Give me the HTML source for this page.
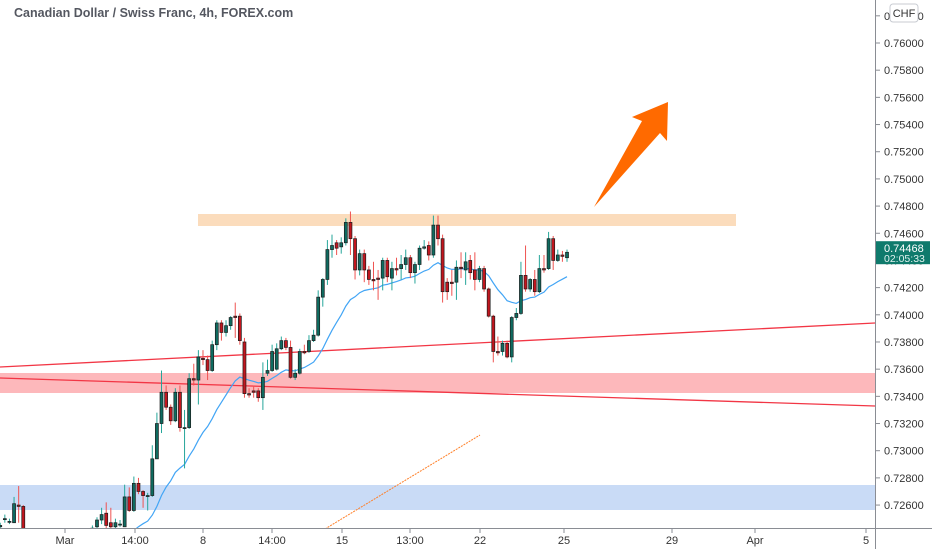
<!DOCTYPE html>
<html><head><meta charset="utf-8">
<style>
html,body{margin:0;padding:0;background:#fff;}
body{width:932px;height:550px;overflow:hidden;position:relative;font-family:"Liberation Sans",sans-serif;}
#title{position:absolute;left:14px;top:6px;font-size:12.5px;color:#2a2e39;font-weight:bold;opacity:.8;}
svg{position:absolute;left:0;top:0;overflow:hidden;}
</style></head>
<body>
<div id="title">Canadian Dollar / Swiss Franc, 4h, FOREX.com</div>
<svg id="chart" width="932" height="550"></svg>
<script>
const opens=[0.7244,0.7250,0.7248,0.7247,0.7260,0.7259,
0.7232,0.7222,0.7212,0.7205,0.7200,0.7196,0.7204,0.7199,0.7206,0.7212,0.7205,0.7210,0.7216,0.7222,0.7232,
0.7244,0.7249,0.7254,0.7247,0.7244,0.7246,0.7244,0.7266,0.7256,0.7276,0.7270,0.7267,0.7267,0.7294,0.7320,0.7343,0.7332,0.7322,0.7343,0.7317,
0.7317,0.7353,0.7352,0.7368,0.7367,0.7359,0.7378,0.7394,0.7387,0.7392,0.7399,0.7399,0.7380,0.7342,0.7344,0.7344,0.7339,0.7357,0.7359,0.7360,
0.7375,0.7381,0.7376,0.7354,0.7357,0.7373,0.7373,0.7381,0.7385,0.7413,0.7426,0.7448,0.7453,0.7450,0.7453,0.7468,0.7456,0.7433,0.7445,0.7433,
0.7426,0.7427,0.7427,0.7440,0.7427,0.7434,0.7434,0.7437,0.7442,0.7431,0.7437,0.7449,0.7451,0.7444,0.7466,0.7456,0.7424,0.7424,0.7424,0.7435,
0.7433,0.7440,0.7433,0.7426,0.7434,0.7419,0.7399,0.7373,0.7373,0.7379,0.7369,0.7398,0.7401,0.7429,0.7419,0.7426,0.7417,0.7434,0.7434,0.7456,
0.7440,0.7444,0.7442];
const closes=[0.7245,0.7250,0.7248,0.7261,0.7259,0.7242,
0.7222,0.7212,0.7205,0.7200,0.7196,0.7204,0.7199,0.7206,0.7212,0.7205,0.7210,0.7216,0.7222,0.7232,0.7243,
0.7249,0.7253,0.7245,0.7244,0.7247,0.7246,0.7266,0.7256,0.7276,0.7270,0.7267,0.7267,0.7294,0.7320,0.7343,0.7332,0.7322,0.7343,0.7317,0.7317,
0.7353,0.7352,0.7369,0.7367,0.7359,0.7378,0.7394,0.7387,0.7392,0.7398,0.7398,0.7381,0.7342,0.7341,0.7343,0.7339,0.7354,0.7359,0.7373,0.7375,
0.7381,0.7376,0.7354,0.7357,0.7373,0.7372,0.7381,0.7385,0.7413,0.7426,0.7448,0.7451,0.7449,0.7453,0.7468,0.7456,0.7433,0.7445,0.7433,0.7426,
0.7425,0.7426,0.7440,0.7428,0.7434,0.7433,0.7437,0.7442,0.7431,0.7437,0.7449,0.7450,0.7444,0.7466,0.7456,0.7417,0.7417,0.7423,0.7435,0.7434,
0.7439,0.7431,0.7426,0.7434,0.7419,0.7399,0.7373,0.7372,0.7379,0.7369,0.7398,0.7401,0.7429,0.7419,0.7426,0.7417,0.7434,0.7433,0.7456,0.7440,
0.7444,0.7443,0.7446];
const highs=[0.7247,0.7253,0.7250,0.7266,0.7274,0.7260,
0.7234,0.7224,0.7215,0.7208,0.7203,0.7206,0.7206,0.7208,0.7214,0.7214,0.7212,0.7218,0.7224,0.7234,0.7245,
0.7251,0.7258,0.7262,0.7258,0.7250,0.7249,0.7275,0.7273,0.7281,0.7280,0.7271,0.7269,0.7304,0.7328,0.7359,0.7348,0.7334,0.7346,0.7348,0.7330,
0.7357,0.7364,0.7374,0.7374,0.7370,0.7381,0.7396,0.7396,0.7396,0.7399,0.7409,0.7401,0.7383,0.7346,0.7348,0.7346,0.7365,0.7367,0.7378,0.7379,
0.7384,0.7383,0.7381,0.7360,0.7375,0.7378,0.7385,0.7389,0.7418,0.7427,0.7455,0.7459,0.7455,0.7457,0.7471,0.7476,0.7458,0.7448,0.7448,0.7436,
0.7439,0.7433,0.7442,0.7442,0.7439,0.7442,0.7444,0.7448,0.7444,0.7439,0.7451,0.7455,0.7454,0.7473,0.7473,0.7459,0.7427,0.7433,0.7440,0.7446,
0.7446,0.7444,0.7446,0.7436,0.7436,0.7420,0.7400,0.7384,0.7381,0.7381,0.7399,0.7405,0.7439,0.7451,0.7427,0.7433,0.7444,0.7444,0.7461,0.7458,
0.7448,0.7447,0.7448];
const lows=[0.7242,0.7247,0.7246,0.7247,0.7247,0.7238,
0.7220,0.7210,0.7202,0.7197,0.7193,0.7194,0.7197,0.7197,0.7204,0.7203,0.7203,0.7208,0.7214,0.7220,0.7230,
0.7242,0.7246,0.7243,0.7243,0.7243,0.7244,0.7244,0.7255,0.7255,0.7268,0.7258,0.7256,0.7266,0.7294,0.7313,0.7330,0.7319,0.7321,0.7314,0.7287,
0.7316,0.7348,0.7334,0.7363,0.7352,0.7358,0.7374,0.7381,0.7384,0.7389,0.7383,0.7378,0.7339,0.7339,0.7339,0.7336,0.7330,0.7355,0.7358,0.7359,
0.7374,0.7374,0.7353,0.7352,0.7356,0.7371,0.7372,0.7380,0.7384,0.7406,0.7422,0.7442,0.7444,0.7445,0.7451,0.7444,0.7426,0.7429,0.7424,0.7422,
0.7418,0.7411,0.7418,0.7424,0.7418,0.7429,0.7426,0.7433,0.7427,0.7423,0.7433,0.7448,0.7440,0.7442,0.7451,0.7409,0.7411,0.7414,0.7411,0.7427,
0.7422,0.7426,0.7418,0.7424,0.7417,0.7398,0.7365,0.7370,0.7370,0.7368,0.7365,0.7396,0.7400,0.7417,0.7417,0.7414,0.7416,0.7431,0.7433,0.7433,
0.7439,0.7439,0.7439];
const priceTicks=[0.762,0.760,0.758,0.756,0.754,0.752,0.750,0.748,0.746,0.744,0.742,0.740,0.738,0.736,0.734,0.732,0.730,0.728,0.726];
const timeLabels=["Mar","14:00","8","14:00","15","13:00","22","25","29","Apr","5"];
const timeLabelX=[65,135,203,272,342,410,480,564,672,755,866];
const lastPrice=0.74468;
const maSeed=0.7225;

const NS="http://www.w3.org/2000/svg";
const svg=document.getElementById('chart');
const PLOT_R=875, PLOT_B=528;
function yOf(p){return Math.min(531, 43+(0.760-p)*13590);}
function xOf(i){return 97+(i-21)*4.608;}
function mk(tag,attrs,parent){const e=document.createElementNS(NS,tag);for(const k in attrs)e.setAttribute(k,attrs[k]);(parent||svg).appendChild(e);return e;}

const defs=mk('defs',{});
const cp=mk('clipPath',{id:'plot'},defs);
mk('rect',{x:0,y:0,width:PLOT_R,height:PLOT_B},cp);
const g=mk('g',{'clip-path':'url(#plot)'});



let z=mk('rect',{x:0,y:485,width:PLOT_R,height:25,fill:'#c9dbf6'},g);


z=mk('rect',{x:0,y:373,width:PLOT_R,height:20,fill:'#fdb8bb'},g);


z=mk('rect',{x:198,y:214,width:538,height:12,fill:'#fbdcbc'},g);



let l=mk('line',{x1:0,y1:367,x2:PLOT_R,y2:323,stroke:'#f23645','stroke-width':1.3},g);


l=mk('line',{x1:0,y1:378,x2:PLOT_R,y2:406,stroke:'#f23645','stroke-width':1.3},g);


l=mk('line',{x1:325,y1:529,x2:480,y2:435,stroke:'#ff7f27','stroke-width':1,'stroke-dasharray':'2,1'},g);



const n=closes.length; const ema=[]; const k=2/21;
for(let i=0;i<n;i++){ema.push(closes[i]*k+(i===0?maSeed:ema[i-1])*(1-k));}
let d='';
for(let i=0;i<n;i++){d+=(i?'L':'M')+xOf(i).toFixed(1)+','+yOf(ema[i]).toFixed(1);}
const ma=mk('path',{d:d,fill:'none',stroke:'#42a5f5','stroke-width':1.2},g);



for(let i=0;i<n;i++){
  const up=closes[i]>=opens[i];
  const x=xOf(i);
  const cg=mk('g',{},g);
  
  
  mk('line',{x1:x,x2:x,y1:yOf(highs[i]),y2:yOf(lows[i]),stroke:up?'#26a69a':'#ef5350','stroke-width':1},cg);
  const top=yOf(Math.max(opens[i],closes[i])), bot=yOf(Math.min(opens[i],closes[i]));
  mk('rect',{x:x-1.5,y:top,width:3,height:Math.max(1,bot-top),fill:up?'#0f6b60':'#c2161e',stroke:'#1c1c1c','stroke-width':0.7},cg);
}

const ar=mk('polygon',{points:'594,207 642,121 632,117 668,102 667,141 660,133',fill:'#ff6a00'});



let ax=mk('line',{x1:PLOT_R+0.5,y1:0,x2:PLOT_R+0.5,y2:549,stroke:'#8a8d94','stroke-width':1});


ax=mk('line',{x1:0,y1:PLOT_B+0.5,x2:932,y2:PLOT_B+0.5,stroke:'#8a8d94','stroke-width':1});



for(const p of priceTicks){
  const y=yOf(p);
  mk('line',{x1:PLOT_R,x2:PLOT_R+5,y1:y,y2:y,stroke:'#8a8d94'});
  const t=mk('text',{x:884,y:y+4,'font-size':11,fill:'#333','font-family':'Liberation Sans, sans-serif'});
  t.textContent=p.toFixed(5);
  
  
}
for(let i=0;i<timeLabels.length;i++){
  const x=timeLabelX[i];
  mk('line',{x1:x,x2:x,y1:PLOT_B,y2:PLOT_B+5,stroke:'#8a8d94'});
  const t=mk('text',{x:x,y:544,'font-size':11,fill:'#333','text-anchor':'middle','font-family':'Liberation Sans, sans-serif'});
  t.textContent=timeLabels[i];
  
  
}

const chf=mk('g',{});


mk('rect',{x:890,y:4,width:28,height:18,rx:3,fill:'#fff',stroke:'#c8cbd2'},chf);
const ct=mk('text',{x:904,y:17,'font-size':11,fill:'#333','text-anchor':'middle','font-family':'Liberation Sans, sans-serif'},chf);
ct.textContent='CHF';

const lp=mk('g',{});


const ly=yOf(lastPrice);
mk('rect',{x:876,y:ly-10,width:54,height:23,fill:'#0f7a6c'},lp);
const t1=mk('text',{x:884,y:ly+1,'font-size':11,fill:'#fff','font-family':'Liberation Sans, sans-serif'},lp);
t1.textContent=lastPrice.toFixed(5);
const t2=mk('text',{x:884,y:ly+11,'font-size':10.5,fill:'#e0f2ef','font-family':'Liberation Sans, sans-serif'},lp);
t2.textContent='02:05:33';
</script>
</body></html>
